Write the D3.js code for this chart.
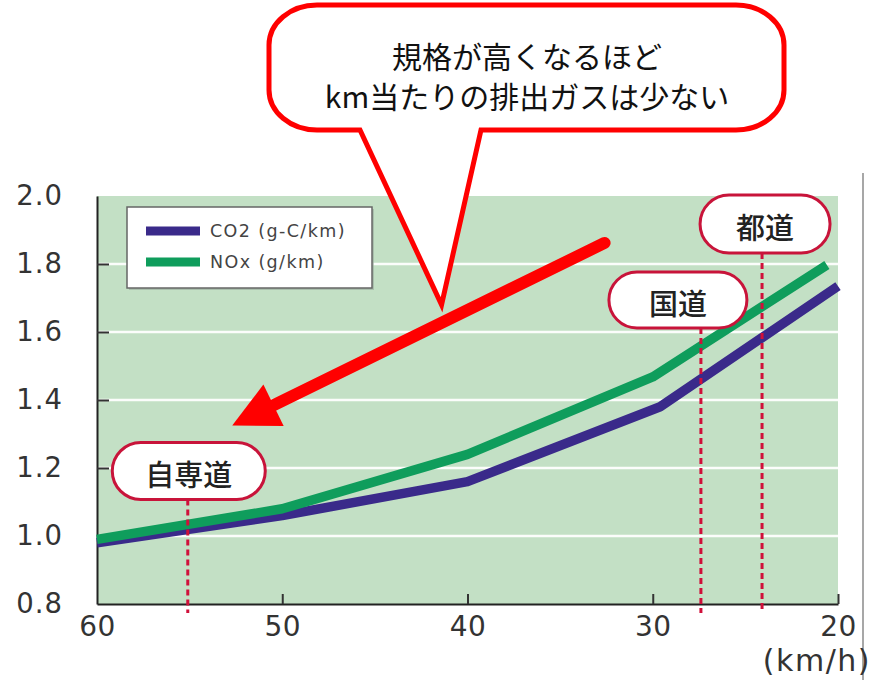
<!DOCTYPE html>
<html>
<head>
<meta charset="utf-8">
<script src="https://cdn.jsdelivr.net/npm/d3@7"></script>
<style>
  body { margin: 0; background: #fff; }
  svg { display: block; }
</style>
</head>
<body>
<div id="chart"></div>
<script>
// series
const co2Speed = [60, 50, 40, 29.6, 20];
const co2Value = [0.98, 1.06, 1.16, 1.38, 1.735];
const noxSpeed = [60, 50, 40, 30, 20.6];
const noxValue = [0.99, 1.08, 1.24, 1.468, 1.797];

const seriesNames = ["CO2 (g-C/km)", "NOx (g/km)"];

// axes
const xTicks = [60, 50, 40, 30, 20];
const yTicks = [0.8, 1.0, 1.2, 1.4, 1.6, 1.8, 2.0];
const xUnit = "(km/h)";

// road types and their typical speed
const roads = ["自専道", "国道", "都道"];
const roadSpeed = [55.1, 27.4, 24.1];

const calloutLines = ["規格が高くなるほど", "km当たりの排出ガスは少ない"];

// ---- layout ----
const W = 872, H = 680;
const PLOT = { LEFT: 97, RIGHT: 838, TOP: 196, BOTTOM: 604 };
const COLORS = { bg: "#c3e0c5", co2: "#3a2a8a", nox: "#0f9d5c", red: "#ff0000", road: "#c8143a" };
const NUM_FONT = "'DejaVu Sans', sans-serif";
const JP_FONT = "'Noto Sans CJK JP', sans-serif";

// pill boxes for the road labels (dx from the dashed line, centre y, size)
const pillLayout = [
  { dx: 1, cy: 471, w: 153, h: 57 },
  { dx: -23, cy: 300, w: 138, h: 56 },
  { dx: 3, cy: 224, w: 130, h: 58 }
];

const svg = d3.select("#chart").append("svg")
  .attr("width", W)
  .attr("height", H);

const x = d3.scaleLinear().domain([60, 20]).range([PLOT.LEFT, PLOT.RIGHT]);
const y = d3.scaleLinear().domain([0.8, 2.0]).range([PLOT.BOTTOM, PLOT.TOP]);

// page border line on the right
svg.append("line")
  .attr("x1", 863).attr("x2", 863)
  .attr("y1", 173).attr("y2", H)
  .attr("stroke", "#8a8a8a")
  .attr("stroke-width", 1.5);

// plot background
svg.append("rect")
  .attr("x", PLOT.LEFT).attr("y", PLOT.TOP)
  .attr("width", PLOT.RIGHT - PLOT.LEFT)
  .attr("height", PLOT.BOTTOM - PLOT.TOP)
  .attr("fill", COLORS.bg);

// white gridlines
svg.append("g")
  .selectAll("line")
  .data(yTicks.slice(1, -1))
  .join("line")
  .attr("x1", PLOT.LEFT).attr("x2", PLOT.RIGHT)
  .attr("y1", d => y(d)).attr("y2", d => y(d))
  .attr("stroke", "#fbfdfb")
  .attr("stroke-width", 2.5);

// Y axis
const gy = svg.append("g")
  .attr("transform", `translate(${PLOT.LEFT},0)`)
  .call(d3.axisLeft(y).tickValues(yTicks).tickFormat(d3.format(".1f"))
    .tickSize(-12).tickSizeOuter(0).tickPadding(34));
gy.select(".domain").attr("stroke", "#222").attr("stroke-width", 2);
gy.selectAll(".tick line")
  .attr("stroke", "#333").attr("stroke-width", 2)
  .attr("opacity", d => (d === 0.8 || d === 2.0) ? 0 : 1);
gy.selectAll(".tick text")
  .attr("font-family", NUM_FONT)
  .attr("font-size", 27.5)
  .attr("letter-spacing", 1)
  .attr("dy", "0.3em")
  .attr("fill", "#333");

// X axis
const gx = svg.append("g")
  .attr("transform", `translate(0,${PLOT.BOTTOM})`)
  .call(d3.axisBottom(x).tickValues(xTicks).tickFormat(d3.format("d"))
    .tickSize(-10).tickSizeOuter(0).tickPadding(12));
gx.select(".domain").attr("stroke", "#222").attr("stroke-width", 2);
gx.selectAll(".tick line")
  .attr("stroke", "#333").attr("stroke-width", 2)
  .attr("opacity", d => d === 60 ? 0 : 1);
gx.selectAll(".tick text")
  .attr("font-family", NUM_FONT)
  .attr("font-size", 28)
  .attr("letter-spacing", 0.5)
  .attr("fill", "#333");

svg.append("text")
  .attr("x", 871).attr("y", 671)
  .attr("text-anchor", "end")
  .attr("font-family", NUM_FONT)
  .attr("font-size", 30)
  .attr("letter-spacing", 1.5)
  .attr("fill", "#333")
  .text(xUnit);

// legend
const legend = svg.append("g");
legend.append("rect")
  .attr("x", 129).attr("y", 209).attr("width", 245).attr("height", 81)
  .attr("fill", "#9aaa9c").attr("opacity", 0.6);
legend.append("rect")
  .attr("x", 127).attr("y", 207).attr("width", 245).attr("height", 81)
  .attr("fill", "#fff").attr("stroke", "#666").attr("stroke-width", 1.5);
const legendRows = [
  { name: seriesNames[0], color: COLORS.co2, cy: 231 },
  { name: seriesNames[1], color: COLORS.nox, cy: 262 }
];
legendRows.forEach(r => {
  legend.append("rect")
    .attr("x", 146).attr("y", r.cy - 4.5).attr("width", 54).attr("height", 9)
    .attr("fill", r.color);
  legend.append("text")
    .attr("x", 210).attr("y", r.cy)
    .attr("dominant-baseline", "central")
    .attr("font-family", NUM_FONT)
    .attr("font-size", 17.5)
    .attr("letter-spacing", 1.4)
    .attr("fill", "#444")
    .text(r.name);
});

// data lines
const line = d3.line().x(d => x(d[0])).y(d => y(d[1]));
const co2Data = d3.zip(co2Speed, co2Value);
const noxData = d3.zip(noxSpeed, noxValue);

svg.append("path")
  .datum(co2Data)
  .attr("d", line)
  .attr("fill", "none")
  .attr("stroke", COLORS.co2)
  .attr("stroke-width", 9.5)
  .attr("stroke-linejoin", "round");

svg.append("path")
  .datum(noxData)
  .attr("d", line)
  .attr("fill", "none")
  .attr("stroke", COLORS.nox)
  .attr("stroke-width", 9.5)
  .attr("stroke-linejoin", "round");

// road markers: dashed line + pill label
roads.forEach((name, i) => {
  const p = pillLayout[i];
  const lx = x(roadSpeed[i]);
  svg.append("line")
    .attr("x1", lx).attr("x2", lx)
    .attr("y1", p.cy + p.h / 2).attr("y2", PLOT.BOTTOM + 9)
    .attr("stroke", "#d0103a")
    .attr("stroke-width", 3)
    .attr("stroke-dasharray", "6,4");
  const cx = lx + p.dx;
  svg.append("rect")
    .attr("x", cx - p.w / 2).attr("y", p.cy - p.h / 2)
    .attr("width", p.w).attr("height", p.h)
    .attr("rx", p.h / 2).attr("ry", p.h / 2)
    .attr("fill", "#fff")
    .attr("stroke", COLORS.road)
    .attr("stroke-width", 3);
  svg.append("text")
    .attr("x", cx).attr("y", p.cy + 2)
    .attr("text-anchor", "middle")
    .attr("dominant-baseline", "central")
    .attr("font-family", JP_FONT)
    .attr("font-weight", 500)
    .attr("font-size", 29)
    .attr("fill", "#222")
    .text(name);
});

// big red arrow (in data units: from ~32.6 km/h,1.86 to ~52.7 km/h,1.32)
const arrowFrom = [x(32.6), y(1.862)];
const arrowTo = [x(52.7), y(1.325)];
{
  const dx = arrowTo[0] - arrowFrom[0], dy = arrowTo[1] - arrowFrom[1];
  const len = Math.hypot(dx, dy);
  const ux = dx / len, uy = dy / len;
  const headLen = 46, headHalf = 23;
  const bx = arrowTo[0] - ux * headLen, by = arrowTo[1] - uy * headLen;
  svg.append("line")
    .attr("x1", arrowFrom[0]).attr("y1", arrowFrom[1])
    .attr("x2", bx + ux * 6).attr("y2", by + uy * 6)
    .attr("stroke", COLORS.red)
    .attr("stroke-width", 12)
    .attr("stroke-linecap", "round");
  svg.append("path")
    .attr("d", `M${arrowTo[0]},${arrowTo[1]}L${bx - uy * headHalf},${by + ux * headHalf}L${bx + uy * headHalf},${by - ux * headHalf}Z`)
    .attr("fill", COLORS.red);
}

// speech bubble
{
  const L = 269, R = 784, T = 5, B = 130, rx = 48, ry = 40;
  const tip = [x(41.4), y(1.68)];
  const tailL = 360, tailR = 481;
  const d = `M${L + rx},${T}H${R - rx}A${rx},${ry} 0 0 1 ${R},${T + ry}` +
    `V${B - ry}A${rx},${ry} 0 0 1 ${R - rx},${B}H${tailR}L${tip[0]},${tip[1]}L${tailL},${B}` +
    `H${L + rx}A${rx},${ry} 0 0 1 ${L},${B - ry}V${T + ry}A${rx},${ry} 0 0 1 ${L + rx},${T}Z`;
  svg.append("path")
    .attr("d", d)
    .attr("fill", "#fff")
    .attr("stroke", COLORS.red)
    .attr("stroke-width", 5)
    .attr("stroke-linejoin", "miter");
  svg.append("g")
    .selectAll("text")
    .data(calloutLines)
    .join("text")
    .attr("x", 527)
    .attr("y", (d, i) => 55 + i * 40)
    .attr("text-anchor", "middle")
    .attr("dominant-baseline", "central")
    .attr("font-family", JP_FONT)
    .attr("font-size", 30)
    .attr("fill", "#111")
    .text(d => d);
}
</script>
</body>
</html>
